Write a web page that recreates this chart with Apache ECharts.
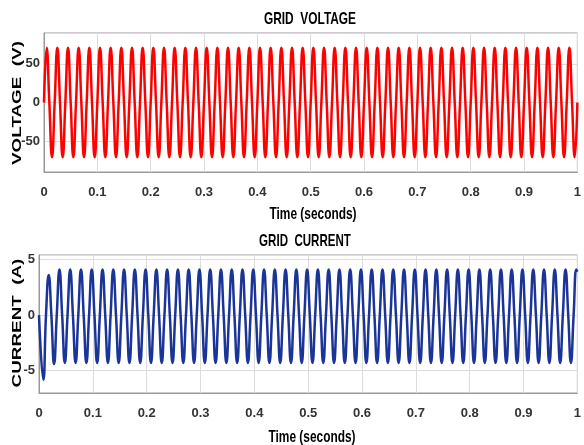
<!DOCTYPE html>
<html lang="en">
<head>
    <meta charset="UTF-8">
    <script src="https://cdn.jsdelivr.net/npm/echarts@6/dist/echarts.min.js"></script>
    <title>Grid voltage and current</title>
</head>
<body style="margin:0;background:#fff;">
<div id="main" style="width: 584px;height:445px;"></div>
<script type="text/javascript">
        // values: one peak and one trough per 50 Hz cycle
        var voltPeaks = [71,71,71,71,71,71,71,71,71,71,71,71,71,71,71,71,71,71,71,71,71,71,71,71,71,
                         71,71,71,71,71,71,71,71,71,71,71,71,71,71,71,71,71,71,71,71,71,71,71,71,71];
        var voltTroughs = [-71,-71,-71,-71,-71,-71,-71,-71,-71,-71,-71,-71,-71,-71,-71,-71,-71,-71,-71,-71,-71,-71,-71,-71,-71,
                           -71,-71,-71,-71,-71,-71,-71,-71,-71,-71,-71,-71,-71,-71,-71,-71,-71,-71,-71,-71,-71,-71,-71,-71,-71];
        var currTroughs = [-5.8,-4.4,-4.3,-4.3,-4.3,-4.3,-4.3,-4.3,-4.3,-4.3,-4.3,-4.3,-4.3,-4.3,-4.3,-4.3,-4.3,-4.3,-4.3,-4.3,-4.3,-4.3,-4.3,-4.3,-4.3,
                           -4.3,-4.3,-4.3,-4.3,-4.3,-4.3,-4.3,-4.3,-4.3,-4.3,-4.3,-4.3,-4.3,-4.3,-4.3,-4.3,-4.3,-4.3,-4.3,-4.3,-4.3,-4.3,-4.3,-4.3,-4.3];
        var currPeaks = [3.6,4.1,4.1,4.1,4.1,4.1,4.1,4.1,4.1,4.1,4.1,4.1,4.1,4.1,4.1,4.1,4.1,4.1,4.1,4.1,4.1,4.1,4.1,4.1,4.1,
                         4.1,4.1,4.1,4.1,4.1,4.1,4.1,4.1,4.1,4.1,4.1,4.1,4.1,4.1,4.1,4.1,4.1,4.1,4.1,4.1,4.1,4.1,4.1,4.1,4.1];

        // points at zero crossings and extremes (voltage: sine, current: lagging, starts negative)
        var voltData = [];
        for (var k = 0; k < voltPeaks.length; k++) {
            var t = k * 0.02;
            voltData.push([t, 0], [t + 0.005, voltPeaks[k]], [t + 0.01, 0], [t + 0.015, voltTroughs[k]]);
        }
        voltData.push([1, 0]);

        var currData = [[0, 0]];
        for (var k = 0; k < currTroughs.length; k++) {
            var t = k * 0.02;
            currData.push([t + 0.008, currTroughs[k]], [t + 0.013, 0], [t + 0.018, currPeaks[k]]);
            if (t + 0.023 < 1) currData.push([t + 0.023, 0]);
        }
        currData.push([1, 3.9]);

        var font = '"Liberation Sans", Arial, sans-serif';
        var tickStyle = { fontFamily: font, fontWeight: 'bold', fontSize: 13, color: '#333' };
        var gridLine = { show: true, lineStyle: { color: '#dcdcdc', width: 1 } };
        var boxLine = { lineStyle: { color: '#999', width: 1 } };

        // text label drawn as graphic so it can be squeezed / stretched like the picture
        function label(txt, x, y, size, sx, rot) {
            return {
                type: 'text', x: x, y: y, rotation: rot || 0, scaleX: sx,
                style: {
                    text: txt, font: 'bold ' + size + 'px ' + font, fill: '#000',
                    align: 'center', verticalAlign: 'middle', textAlign: 'center', textVerticalAlign: 'middle'
                }
            };
        }

        function xAxisFor(i) {
            return {
                type: 'value', gridIndex: i, min: 0, max: 1, interval: 0.1,
                axisLine: { onZero: false, lineStyle: { color: '#999' } }, axisTick: { show: false },
                axisLabel: Object.assign({ margin: 14, formatter: function (v) { return String(+v.toFixed(1)); } }, tickStyle),
                splitLine: gridLine
            };
        }

        function yAxisFor(i, lo, hi) {
            return {
                type: 'value', gridIndex: i, min: lo, max: hi, splitNumber: 3,
                axisLine: boxLine, axisTick: { show: false },
                axisLabel: Object.assign({ margin: 4, showMinLabel: false, showMaxLabel: false }, tickStyle),
                splitLine: gridLine
            };
        }

        var myChart = echarts.init(document.getElementById('main'));
        var option = {
            animation: false,
            backgroundColor: '#fff',
            grid: [
                { left: 44, top: 33, width: 539, height: 139, show: true, borderColor: '#999', borderWidth: 1 },
                { left: 39, top: 255, width: 543, height: 138, show: true, borderColor: '#999', borderWidth: 1 }
            ],
            xAxis: [xAxisFor(0), xAxisFor(1)],
            yAxis: [yAxisFor(0, -90, 90), yAxisFor(1, -7, 5.4)],
            graphic: [
                label('GRID  VOLTAGE', 310, 19, 17, 0.7),
                label('GRID  CURRENT', 305, 241, 17, 0.68),
                label('Time (seconds)', 313, 214, 17, 0.7),
                label('Time (seconds)', 312, 437, 17, 0.7),
                label('VOLTAGE  (V)', 17, 103, 13, 1.45, Math.PI / 2),
                label('CURRENT  (A)', 17, 323, 13, 1.45, Math.PI / 2)
            ],
            series: [
                {
                    type: 'line', xAxisIndex: 0, yAxisIndex: 0, data: voltData, smooth: 0.5,
                    showSymbol: false, lineStyle: { color: '#ff0000', width: 2.5 }
                },
                {
                    type: 'line', xAxisIndex: 1, yAxisIndex: 1, data: currData, smooth: 0.5,
                    showSymbol: false, lineStyle: { color: '#1a3497', width: 2.5 }
                }
            ]
        };
        myChart.setOption(option);
    </script>
</body>
</html>
